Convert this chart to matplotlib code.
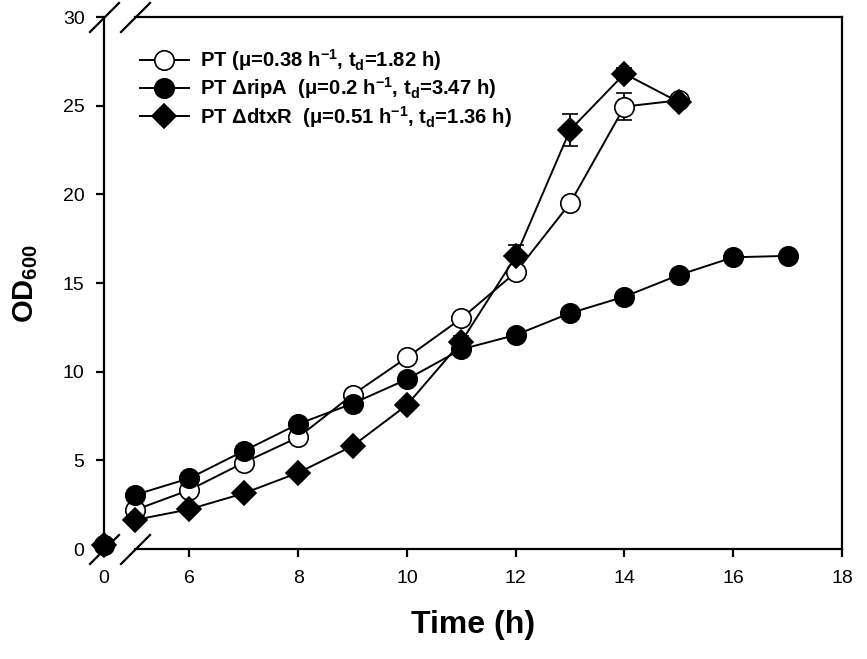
import numpy as np
import matplotlib
matplotlib.use("Agg")
import matplotlib.pyplot as plt
from matplotlib.lines import Line2D
from matplotlib.ticker import FixedLocator, NullLocator

plt.rcParams['font.family'] = ['Liberation Sans', 'DejaVu Sans']
plt.rcParams['mathtext.fontset'] = 'custom'
plt.rcParams['mathtext.rm'] = 'Liberation Sans:bold'
plt.rcParams['mathtext.it'] = 'Liberation Sans:bold'
plt.rcParams['mathtext.bf'] = 'Liberation Sans:bold'
plt.rcParams['mathtext.default'] = 'rm'

# Growth data (OD600 vs time)
t_pt = [0, 5, 6, 7, 8, 9, 10, 11, 12, 13, 14, 15]
od_pt = [0.2, 2.2, 3.33, 4.87, 6.3, 8.7, 10.8, 13.0, 15.6, 19.5, 24.95, 25.3]
err_pt = [0, 0.1, 0.1, 0.1, 0.1, 0.1, 0.1, 0.1, 0.2, 0.3, 0.75, 0.3]

t_ripa = [0, 5, 6, 7, 8, 9, 10, 11, 12, 13, 14, 15, 16, 17]
od_ripa = [0.2, 3.05, 3.99, 5.53, 7.05, 8.2, 9.57, 11.26, 12.07, 13.3, 14.23, 15.45, 16.45, 16.53]
err_ripa = [0, 0.1, 0.1, 0.1, 0.1, 0.1, 0.1, 0.1, 0.1, 0.1, 0.1, 0.1, 0.1, 0.1]

t_dtxr = [0, 5, 6, 7, 8, 9, 10, 11, 12, 13, 14, 15]
od_dtxr = [0.2, 1.64, 2.24, 3.14, 4.3, 5.81, 8.12, 11.69, 16.5, 23.63, 26.8, 25.2]
err_dtxr = [0, 0.1, 0.1, 0.1, 0.1, 0.1, 0.2, 0.3, 0.62, 0.9, 0.3, 0.2]

labels = [r"PT (μ=0.38 h$^{-1}$, t$_{d}$=1.82 h)",
          r"PT ΔripA  (μ=0.2 h$^{-1}$, t$_{d}$=3.47 h)",
          r"PT ΔdtxR  (μ=0.51 h$^{-1}$, t$_{d}$=1.36 h)"]

xticks = [0, 6, 8, 10, 12, 14, 16, 18]
yticks = [0, 5, 10, 15, 20, 25, 30]

# broken x axis: 0..5 squeezed into a short gap
BRK = 5.0
GAP = 0.571


def fwd(x):
    x = np.asarray(x, dtype=float)
    return np.where(x < BRK, x * GAP / BRK, x - BRK + GAP)


def inv(f):
    f = np.asarray(f, dtype=float)
    return np.where(f < GAP, f * BRK / GAP, f + BRK - GAP)


fig = plt.figure(figsize=(8.67, 6.59), dpi=100)
ax = fig.add_axes([104/867, 1-549/659, (842-104)/867, (549-17)/659])
ax.set_xscale('function', functions=(fwd, inv))
ax.set_xlim(0, 18)
ax.set_ylim(0, 30)

lw = 1.4
series = [
    (t_pt, od_pt, err_pt, 'o', 'white', 14),
    (t_ripa, od_ripa, err_ripa, 'o', 'black', 14),
    (t_dtxr, od_dtxr, err_dtxr, 'D', 'black', 12),
]
handles = []
for (tt, yy, ee, mk, fc, ms), lab in zip(series, labels):
    ax.errorbar(tt[1:], yy[1:], yerr=ee[1:], color='black', lw=lw,
                marker=mk, ms=ms, mfc=fc, mec='black', mew=1.2,
                capsize=6, capthick=1.3, elinewidth=1.3, zorder=3)
    ax.plot(tt[:1], yy[:1], ls='none', marker=mk, ms=ms, mfc=fc,
            mec='black', mew=1.2, clip_on=False, zorder=5)
    handles.append(Line2D([], [], color='black', lw=lw, marker=mk, ms=ms,
                          mfc=fc, mec='black', mew=1.2, label=lab))

# spines
for s in ['left', 'right', 'top', 'bottom']:
    ax.spines[s].set_linewidth(1.6)
ax.spines['bottom'].set_bounds(BRK, 18)
ax.spines['top'].set_bounds(BRK, 18)

# break marks
for xb in (0, BRK):
    for yb in (0, 30):
        ax.plot([xb], [yb], marker=[(-1, -1), (1, 1)], ms=22, mew=1.6,
                color='black', ls='none', clip_on=False, zorder=4)

ax.xaxis.set_major_locator(FixedLocator(xticks))
ax.xaxis.set_minor_locator(NullLocator())
ax.yaxis.set_major_locator(FixedLocator(yticks))
ax.yaxis.set_minor_locator(NullLocator())
ax.tick_params(axis='both', direction='out', length=6, width=1.6,
               labelsize=14)
ax.tick_params(axis='x', pad=9)
ax.tick_params(axis='y', pad=8)

ax.set_xlabel("Time (h)", fontsize=23, fontweight='bold')
ax.set_ylabel(r"OD$_{600}$", fontsize=21, fontweight='bold')
ax.xaxis.set_label_coords(0.5, -(610-549)/532)
ax.yaxis.set_label_coords(-(104-40)/738, 0.5)

leg = ax.legend(handles=handles, loc='upper left',
                bbox_to_anchor=((140-104)/738, 1-(47-17)/532),
                frameon=False, borderpad=0, borderaxespad=0,
                handlelength=2.4, handletextpad=0.55, labelspacing=0.12,
                prop={'weight': 'bold', 'size': 14.6})

fig.savefig("out.png", dpi=100)
